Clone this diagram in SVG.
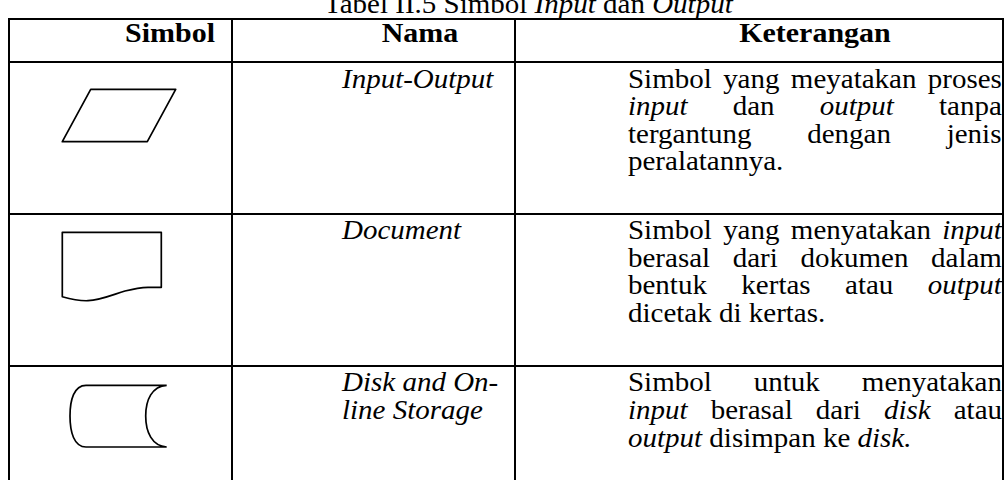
<svg xmlns="http://www.w3.org/2000/svg" width="1005" height="480" viewBox="0 0 1005 480">
<style>
.grid{stroke:#000;stroke-width:2;fill:none}
.sym{stroke:#000;stroke-width:1.7;fill:none;stroke-linejoin:round}
text{font-family:"Liberation Serif","Times New Roman",serif;fill:#000}
.b{font-size:29px}
.h{font-size:30px;font-weight:bold}
.i{font-style:italic}
</style>
<rect width="1005" height="480" fill="#fff"/>
<g id="grid" class="grid">
<line x1="8" y1="19" x2="1004" y2="19"/>
<line x1="8" y1="62" x2="1004" y2="62"/>
<line x1="8" y1="214" x2="1004" y2="214"/>
<line x1="8" y1="366" x2="1004" y2="366"/>
<line x1="9" y1="18" x2="9" y2="480"/>
<line x1="232" y1="18" x2="232" y2="480"/>
<line x1="515" y1="18" x2="515" y2="480"/>
<line x1="1003" y1="18" x2="1003" y2="480"/>
</g>
<g id="symbols">
<g id="sym-io"><polygon class="sym" points="90.7,89.3 175.7,89.3 147.3,141.7 62.3,141.7"/></g>
<g id="sym-doc"><path class="sym" d="M62.3,296.7 V232.3 H161.3 V287.3 H148 C142,287.5 135,288.5 125,291 C112,295 100,300.3 88,300.7 C80,301 72,299.5 62.3,296.7 Z"/></g>
<g id="sym-disk"><path class="sym" d="M166.7,385.3 H86 C74,385.3 70,400 70,416 C70,432 74,447 86,447 H166.7 M166.7,385.3 C152,386 145.7,400 145.7,416 C145.7,432 152,446 166.7,447"/></g>
</g>
<g transform="scale(1,0.93)">
<g id="title"><text x="324" y="13.98" class="b">Tabel II.5 Simbol <tspan class="i">Input</tspan> dan <tspan class="i">Output</tspan></text></g>
<g id="header">
<text x="170" y="45.16" class="h" text-anchor="middle">Simbol</text>
<text x="420" y="45.16" class="h" text-anchor="middle">Nama</text>
<text x="815" y="45.16" class="h" text-anchor="middle">Keterangan</text>
</g>
<g id="row1">
<text x="342" y="94.62" class="b i">Input-Output</text>
<text x="628" y="94.62" class="b" style="word-spacing:4.1px">Simbol yang meyatakan proses</text>
<text x="628" y="124.19" class="b" style="word-spacing:37.9px"><tspan class="i">input</tspan> dan <tspan class="i">output</tspan> tanpa</text>
<text x="628" y="153.76" class="b" style="word-spacing:48.5px">tergantung dengan jenis</text>
<text x="628" y="183.33" class="b">peralatannya.</text>
</g>
<g id="row2">
<text x="342" y="257.53" class="b i">Document</text>
<text x="628" y="257.53" class="b" style="word-spacing:4.1px">Simbol yang menyatakan <tspan class="i">input</tspan></text>
<text x="628" y="287.10" class="b" style="word-spacing:15.4px">berasal dari dokumen dalam</text>
<text x="628" y="316.67" class="b" style="word-spacing:27.2px">bentuk kertas atau <tspan class="i">output</tspan></text>
<text x="628" y="346.24" class="b">dicetak di kertas.</text>
</g>
<g id="row3">
<text x="342" y="420.97" class="b i">Disk and On-</text>
<text x="342" y="450.54" class="b i">line Storage</text>
<text x="628" y="420.97" class="b" style="word-spacing:34.75px">Simbol untuk menyatakan</text>
<text x="628" y="450.54" class="b" style="word-spacing:15.8px"><tspan class="i">input</tspan> berasal dari <tspan class="i">disk</tspan> atau</text>
<text x="628" y="480.11" class="b"><tspan class="i">output</tspan> disimpan ke <tspan class="i">disk.</tspan></text>
</g>
</g>
</svg>
